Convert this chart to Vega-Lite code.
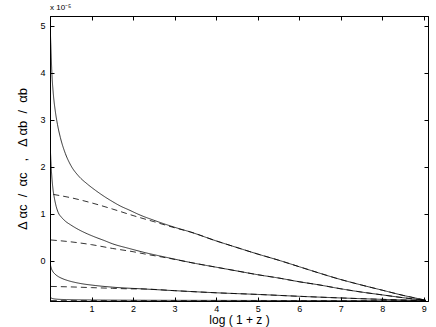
{
  "$schema": "https://vega.github.io/schema/vega-lite/v6.json",
  "autosize": "none",
  "width": 378,
  "height": 285,
  "padding": {"left": 50, "top": 16, "right": 8, "bottom": 26},
  "background": "white",
  "title": {"text": "x 10⁻⁵", "anchor": "start", "frame": "group", "fontSize": 8, "fontWeight": "normal", "font": "Liberation Sans", "offset": 4, "color": "#000"},
  "config": {
    "font": "Liberation Sans",
    "view": {"stroke": "#000", "strokeWidth": 1},
    "axis": {"labelFontSize": 9, "labelColor": "#000", "titleFontSize": 12, "titleFontWeight": "normal", "titleColor": "#000", "domainColor": "#000", "tickColor": "#000", "grid": false, "labelFont": "Liberation Sans", "titleFont": "Liberation Sans"}
  },
  "data": {"values": [
    {"x":0,"y":5.2,"s":"A","d":"solid"},{"x":0.01,"y":4.85,"s":"A","d":"solid"},{"x":0.02,"y":4.6,"s":"A","d":"solid"},{"x":0.045,"y":4.0,"s":"A","d":"solid"},{"x":0.08,"y":3.55,"s":"A","d":"solid"},{"x":0.125,"y":3.2,"s":"A","d":"solid"},{"x":0.18,"y":2.9,"s":"A","d":"solid"},{"x":0.25,"y":2.62,"s":"A","d":"solid"},{"x":0.37,"y":2.28,"s":"A","d":"solid"},{"x":0.5,"y":2.03,"s":"A","d":"solid"},{"x":0.69,"y":1.8,"s":"A","d":"solid"},{"x":0.9,"y":1.63,"s":"A","d":"solid"},{"x":1.09,"y":1.5,"s":"A","d":"solid"},{"x":1.3,"y":1.37,"s":"A","d":"solid"},{"x":1.5,"y":1.26,"s":"A","d":"solid"},{"x":1.7,"y":1.16,"s":"A","d":"solid"},{"x":1.9,"y":1.08,"s":"A","d":"solid"},{"x":2.17,"y":0.97,"s":"A","d":"solid"},{"x":2.5,"y":0.86,"s":"A","d":"solid"},{"x":3.0,"y":0.71,"s":"A","d":"solid"},{"x":3.38,"y":0.61,"s":"A","d":"solid"},{"x":4.0,"y":0.42,"s":"A","d":"solid"},{"x":4.46,"y":0.29,"s":"A","d":"solid"},{"x":5.0,"y":0.14,"s":"A","d":"solid"},{"x":5.5,"y":0.01,"s":"A","d":"solid"},{"x":6.0,"y":-0.13,"s":"A","d":"solid"},{"x":6.5,"y":-0.27,"s":"A","d":"solid"},{"x":6.87,"y":-0.37,"s":"A","d":"solid"},{"x":7.5,"y":-0.52,"s":"A","d":"solid"},{"x":8.0,"y":-0.63,"s":"A","d":"solid"},{"x":8.5,"y":-0.74,"s":"A","d":"solid"},{"x":8.92,"y":-0.82,"s":"A","d":"solid"},{"x":9.05,"y":-0.845,"s":"A","d":"solid"},
    {"x":0.08,"y":1.41,"s":"A2","d":"dashed"},{"x":0.5,"y":1.34,"s":"A2","d":"dashed"},{"x":1.0,"y":1.23,"s":"A2","d":"dashed"},{"x":1.5,"y":1.1,"s":"A2","d":"dashed"},{"x":2.0,"y":0.96,"s":"A2","d":"dashed"},{"x":2.5,"y":0.83,"s":"A2","d":"dashed"},{"x":3.0,"y":0.7,"s":"A2","d":"dashed"},{"x":3.38,"y":0.61,"s":"A2","d":"dashed"},{"x":4.0,"y":0.42,"s":"A2","d":"dashed"},{"x":4.46,"y":0.29,"s":"A2","d":"dashed"},{"x":5.0,"y":0.14,"s":"A2","d":"dashed"},{"x":5.5,"y":0.01,"s":"A2","d":"dashed"},{"x":6.0,"y":-0.13,"s":"A2","d":"dashed"},{"x":6.5,"y":-0.27,"s":"A2","d":"dashed"},{"x":6.87,"y":-0.37,"s":"A2","d":"dashed"},{"x":7.5,"y":-0.52,"s":"A2","d":"dashed"},{"x":8.0,"y":-0.63,"s":"A2","d":"dashed"},{"x":8.5,"y":-0.74,"s":"A2","d":"dashed"},{"x":8.92,"y":-0.82,"s":"A2","d":"dashed"},{"x":9.05,"y":-0.845,"s":"A2","d":"dashed"},
    {"x":0,"y":2.6,"s":"B","d":"solid"},{"x":0.01,"y":2.35,"s":"B","d":"solid"},{"x":0.02,"y":2.15,"s":"B","d":"solid"},{"x":0.035,"y":1.9,"s":"B","d":"solid"},{"x":0.05,"y":1.72,"s":"B","d":"solid"},{"x":0.075,"y":1.5,"s":"B","d":"solid"},{"x":0.1,"y":1.36,"s":"B","d":"solid"},{"x":0.15,"y":1.15,"s":"B","d":"solid"},{"x":0.2,"y":1.02,"s":"B","d":"solid"},{"x":0.28,"y":0.92,"s":"B","d":"solid"},{"x":0.37,"y":0.84,"s":"B","d":"solid"},{"x":0.5,"y":0.76,"s":"B","d":"solid"},{"x":0.69,"y":0.66,"s":"B","d":"solid"},{"x":0.9,"y":0.57,"s":"B","d":"solid"},{"x":1.09,"y":0.5,"s":"B","d":"solid"},{"x":1.3,"y":0.43,"s":"B","d":"solid"},{"x":1.5,"y":0.36,"s":"B","d":"solid"},{"x":1.9,"y":0.26,"s":"B","d":"solid"},{"x":2.29,"y":0.17,"s":"B","d":"solid"},{"x":2.8,"y":0.07,"s":"B","d":"solid"},{"x":3.5,"y":-0.06,"s":"B","d":"solid"},{"x":4.0,"y":-0.14,"s":"B","d":"solid"},{"x":4.5,"y":-0.22,"s":"B","d":"solid"},{"x":5.0,"y":-0.3,"s":"B","d":"solid"},{"x":5.5,"y":-0.37,"s":"B","d":"solid"},{"x":6.0,"y":-0.45,"s":"B","d":"solid"},{"x":6.5,"y":-0.52,"s":"B","d":"solid"},{"x":7.0,"y":-0.6,"s":"B","d":"solid"},{"x":7.5,"y":-0.67,"s":"B","d":"solid"},{"x":8.0,"y":-0.73,"s":"B","d":"solid"},{"x":8.5,"y":-0.79,"s":"B","d":"solid"},{"x":9.05,"y":-0.845,"s":"B","d":"solid"},
    {"x":0.02,"y":0.44,"s":"B2","d":"dashed"},{"x":0.5,"y":0.4,"s":"B2","d":"dashed"},{"x":1.0,"y":0.34,"s":"B2","d":"dashed"},{"x":1.5,"y":0.26,"s":"B2","d":"dashed"},{"x":2.0,"y":0.19,"s":"B2","d":"dashed"},{"x":2.29,"y":0.14,"s":"B2","d":"dashed"},{"x":2.8,"y":0.06,"s":"B2","d":"dashed"},{"x":3.5,"y":-0.06,"s":"B2","d":"dashed"},{"x":4.0,"y":-0.14,"s":"B2","d":"dashed"},{"x":4.5,"y":-0.22,"s":"B2","d":"dashed"},{"x":5.0,"y":-0.3,"s":"B2","d":"dashed"},{"x":5.5,"y":-0.37,"s":"B2","d":"dashed"},{"x":6.0,"y":-0.45,"s":"B2","d":"dashed"},{"x":6.5,"y":-0.52,"s":"B2","d":"dashed"},{"x":7.0,"y":-0.6,"s":"B2","d":"dashed"},{"x":7.5,"y":-0.67,"s":"B2","d":"dashed"},{"x":8.0,"y":-0.73,"s":"B2","d":"dashed"},{"x":8.5,"y":-0.79,"s":"B2","d":"dashed"},{"x":9.05,"y":-0.845,"s":"B2","d":"dashed"},
    {"x":0,"y":0.0,"s":"C","d":"solid"},{"x":0.01,"y":-0.08,"s":"C","d":"solid"},{"x":0.03,"y":-0.16,"s":"C","d":"solid"},{"x":0.06,"y":-0.22,"s":"C","d":"solid"},{"x":0.125,"y":-0.29,"s":"C","d":"solid"},{"x":0.2,"y":-0.34,"s":"C","d":"solid"},{"x":0.29,"y":-0.38,"s":"C","d":"solid"},{"x":0.45,"y":-0.43,"s":"C","d":"solid"},{"x":0.69,"y":-0.48,"s":"C","d":"solid"},{"x":1.09,"y":-0.53,"s":"C","d":"solid"},{"x":1.5,"y":-0.565,"s":"C","d":"solid"},{"x":2.29,"y":-0.605,"s":"C","d":"solid"},{"x":3.0,"y":-0.64,"s":"C","d":"solid"},{"x":4.0,"y":-0.685,"s":"C","d":"solid"},{"x":5.0,"y":-0.72,"s":"C","d":"solid"},{"x":6.0,"y":-0.76,"s":"C","d":"solid"},{"x":7.0,"y":-0.795,"s":"C","d":"solid"},{"x":8.0,"y":-0.825,"s":"C","d":"solid"},{"x":9.05,"y":-0.85,"s":"C","d":"solid"},
    {"x":0.02,"y":-0.55,"s":"C2","d":"dashed"},{"x":0.5,"y":-0.56,"s":"C2","d":"dashed"},{"x":1.0,"y":-0.575,"s":"C2","d":"dashed"},{"x":1.5,"y":-0.59,"s":"C2","d":"dashed"},{"x":1.85,"y":-0.6,"s":"C2","d":"dashed"},{"x":2.29,"y":-0.605,"s":"C2","d":"dashed"},{"x":3.0,"y":-0.64,"s":"C2","d":"dashed"},{"x":4.0,"y":-0.685,"s":"C2","d":"dashed"},{"x":5.0,"y":-0.72,"s":"C2","d":"dashed"},{"x":6.0,"y":-0.76,"s":"C2","d":"dashed"},{"x":7.0,"y":-0.795,"s":"C2","d":"dashed"},{"x":8.0,"y":-0.825,"s":"C2","d":"dashed"},{"x":9.05,"y":-0.85,"s":"C2","d":"dashed"},
    {"x":0,"y":-0.77,"s":"D","d":"solid"},{"x":0.02,"y":-0.79,"s":"D","d":"solid"},{"x":0.05,"y":-0.805,"s":"D","d":"solid"},{"x":0.15,"y":-0.82,"s":"D","d":"solid"},{"x":0.4,"y":-0.83,"s":"D","d":"solid"},{"x":1.0,"y":-0.838,"s":"D","d":"solid"},{"x":2.0,"y":-0.843,"s":"D","d":"solid"},{"x":4.0,"y":-0.847,"s":"D","d":"solid"},{"x":6.0,"y":-0.85,"s":"D","d":"solid"},{"x":9.05,"y":-0.853,"s":"D","d":"solid"},
    {"x":0.02,"y":-0.852,"s":"D2","d":"dashed"},{"x":4.0,"y":-0.854,"s":"D2","d":"dashed"},{"x":9.05,"y":-0.855,"s":"D2","d":"dashed"}
  ]},
  "layer": [
    {
      "mark": {"type": "line", "color": "#000", "strokeWidth": 0.8, "clip": true, "interpolate": "monotone"},
      "encoding": {
        "x": {"field": "x", "type": "quantitative", "scale": {"domain": [0, 9.1], "nice": false, "zero": false},
              "axis": {"values": [1,2,3,4,5,6,7,8,9], "tickSize": -4, "labelPadding": 7, "title": "log ( 1 + z )", "titlePadding": 1, "titleFontSize": 12}},
        "y": {"field": "y", "type": "quantitative", "scale": {"domain": [-0.86, 5.21], "nice": false, "zero": false},
              "axis": {"values": [0,1,2,3,4,5], "tickSize": -4, "labelPadding": 9, "title": "Δ αc\u00a0\u00a0/\u00a0\u00a0αc\u00a0\u00a0\u00a0,\u00a0\u00a0\u00a0Δ αb\u00a0\u00a0/\u00a0\u00a0αb", "titlePadding": 10, "titleFontSize": 13}},
        "detail": {"field": "s"},
        "strokeDash": {"field": "d", "type": "nominal", "scale": {"domain": ["solid", "dashed"], "range": [[1, 0], [6, 4]]}, "legend": null}
      }
    },
    {
      "mark": {"type": "line", "strokeOpacity": 0},
      "encoding": {
        "x": {"field": "x", "type": "quantitative", "scale": {"domain": [0, 9.1], "nice": false, "zero": false},
              "axis": {"orient": "top", "values": [1,2,3,4,5,6,7,8,9], "tickSize": -4, "labels": false, "title": null}},
        "y": {"field": "y", "type": "quantitative", "scale": {"domain": [-0.86, 5.21], "nice": false, "zero": false},
              "axis": {"orient": "right", "values": [0,1,2,3,4,5], "tickSize": -4, "labels": false, "title": null}},
        "detail": {"field": "s"}
      }
    }
  ],
  "resolve": {"axis": {"x": "independent", "y": "independent"}}
}
